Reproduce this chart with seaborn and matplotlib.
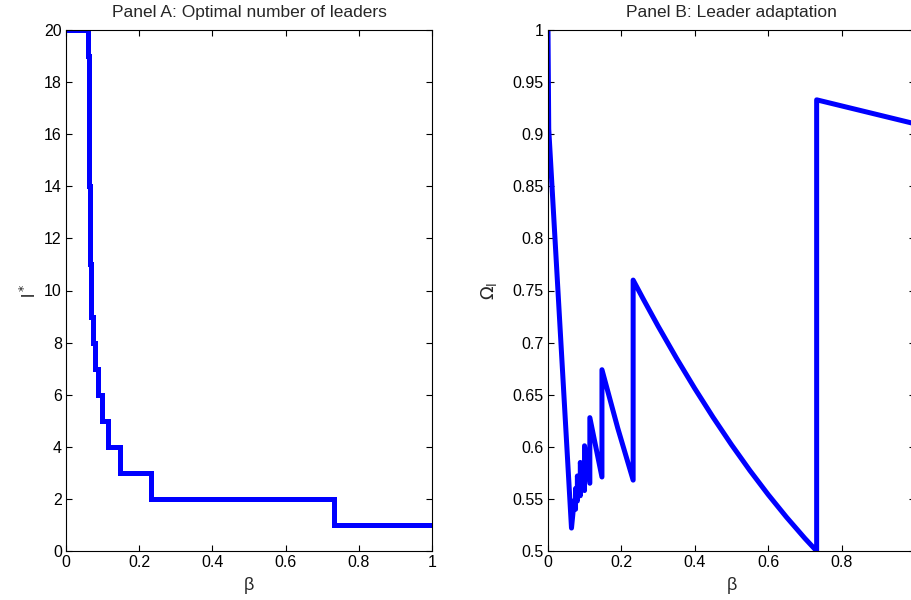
import numpy as np
import pandas as pd
import matplotlib
matplotlib.use("Agg")
import matplotlib.pyplot as plt
from matplotlib.ticker import FuncFormatter, FixedLocator
import seaborn as sns

# ---------------- data ----------------
# Panel A: optimal number of leaders l* as a step function of beta
leaders = [20, 19, 18, 17, 16, 15, 14, 13, 12, 11, 10, 9, 8, 7, 6, 5, 4, 3, 2, 1]
beta_start = [0.0, 0.0610, 0.0615, 0.0620, 0.0626, 0.0632, 0.0639, 0.0646,
              0.0654, 0.0663, 0.0673, 0.0690, 0.0750, 0.0800, 0.0880,
              0.0995, 0.1140, 0.1470, 0.2320, 0.7320]
beta_end = 1.0

# Panel B: leader adaptation Omega_l vs beta (vertical jumps repeat beta)
beta_b = [0.000, 0.002, 0.064, 0.069,
          0.069, 0.075,
          0.075, 0.080,
          0.080, 0.088,
          0.088, 0.0995,
          0.0995, 0.114,
          0.114, 0.147,
          0.147, 0.190, 0.232,
          0.232, 0.260, 0.300, 0.350, 0.400, 0.450, 0.500, 0.550,
          0.600, 0.650, 0.700, 0.732,
          0.732, 1.000]
omega_b = [1.000, 0.905, 0.522, 0.540,
           0.548, 0.540,
           0.560, 0.548,
           0.572, 0.553,
           0.585, 0.558,
           0.601, 0.565,
           0.628, 0.571,
           0.674, 0.618, 0.568,
           0.760, 0.7415, 0.7158, 0.6851, 0.6559, 0.6282, 0.6020, 0.5773,
           0.5541, 0.5324, 0.5121, 0.500,
           0.933, 0.910]

xa_ticks = [0, 0.2, 0.4, 0.6, 0.8, 1.0]
xb_ticks = [0, 0.2, 0.4, 0.6, 0.8]
ya_ticks = list(range(0, 21, 2))
yb_ticks = [0.5, 0.55, 0.6, 0.65, 0.7, 0.75, 0.8, 0.85, 0.9, 0.95, 1.0]

# ---------------- style ----------------
sns.set_style("ticks")
plt.rcParams['font.family'] = ['Liberation Sans', 'DejaVu Sans']
plt.rcParams['mathtext.fontset'] = 'dejavusans'
plt.rcParams['xtick.direction'] = 'in'
plt.rcParams['ytick.direction'] = 'in'

fig = plt.figure(figsize=(9.12, 6.0), dpi=100)
axA = fig.add_axes([66/912, 49/600, 366/912, 521/600])
axB = fig.add_axes([548/912, 49/600, 367/912, 521/600])

blue = (0, 0, 1)
lw = 3.6

dfA = pd.DataFrame({"beta": beta_start + [beta_end], "l": leaders + [leaders[-1]]})
sns.lineplot(data=dfA, x="beta", y="l", sort=False, estimator=None, ax=axA,
             color=blue, lw=lw, drawstyle="steps-post", solid_joinstyle="miter")

dfB = pd.DataFrame({"beta": beta_b, "omega": omega_b})
sns.lineplot(data=dfB, x="beta", y="omega", sort=False, estimator=None, ax=axB,
             color=blue, lw=lw, solid_joinstyle="round")

fmt = FuncFormatter(lambda v, p: "{:g}".format(round(v, 4)))

for ax, xt in ((axA, xa_ticks), (axB, xb_ticks)):
    ax.set_xlim(0, 1)
    ax.xaxis.set_major_locator(FixedLocator(xt))
    ax.xaxis.set_major_formatter(fmt)
    ax.yaxis.set_major_formatter(fmt)
    ax.tick_params(axis='both', which='both', direction='in', length=4, width=0.8,
                   labelsize=11.5, top=True, right=True, colors='black', pad=3)
    for s in ax.spines.values():
        s.set_linewidth(0.8)
        s.set_color('black')
        s.set_visible(True)
    ax.set_xlabel("β", fontsize=13, labelpad=5)
    ax.grid(False)

axA.set_ylim(0, 20)
axA.yaxis.set_major_locator(FixedLocator(ya_ticks))
axA.set_ylabel(r"l$^*$", fontsize=13, labelpad=3)
axA.set_title("Panel A: Optimal number of leaders", fontsize=12.5, pad=9)

axB.set_ylim(0.5, 1.0)
axB.yaxis.set_major_locator(FixedLocator(yb_ticks))
axB.set_ylabel(r"$\Omega_{\rm l}$", fontsize=13, labelpad=10)
axB.set_title("Panel B: Leader adaptation", fontsize=12.5, pad=9)

fig.savefig("out.png", dpi=100)
